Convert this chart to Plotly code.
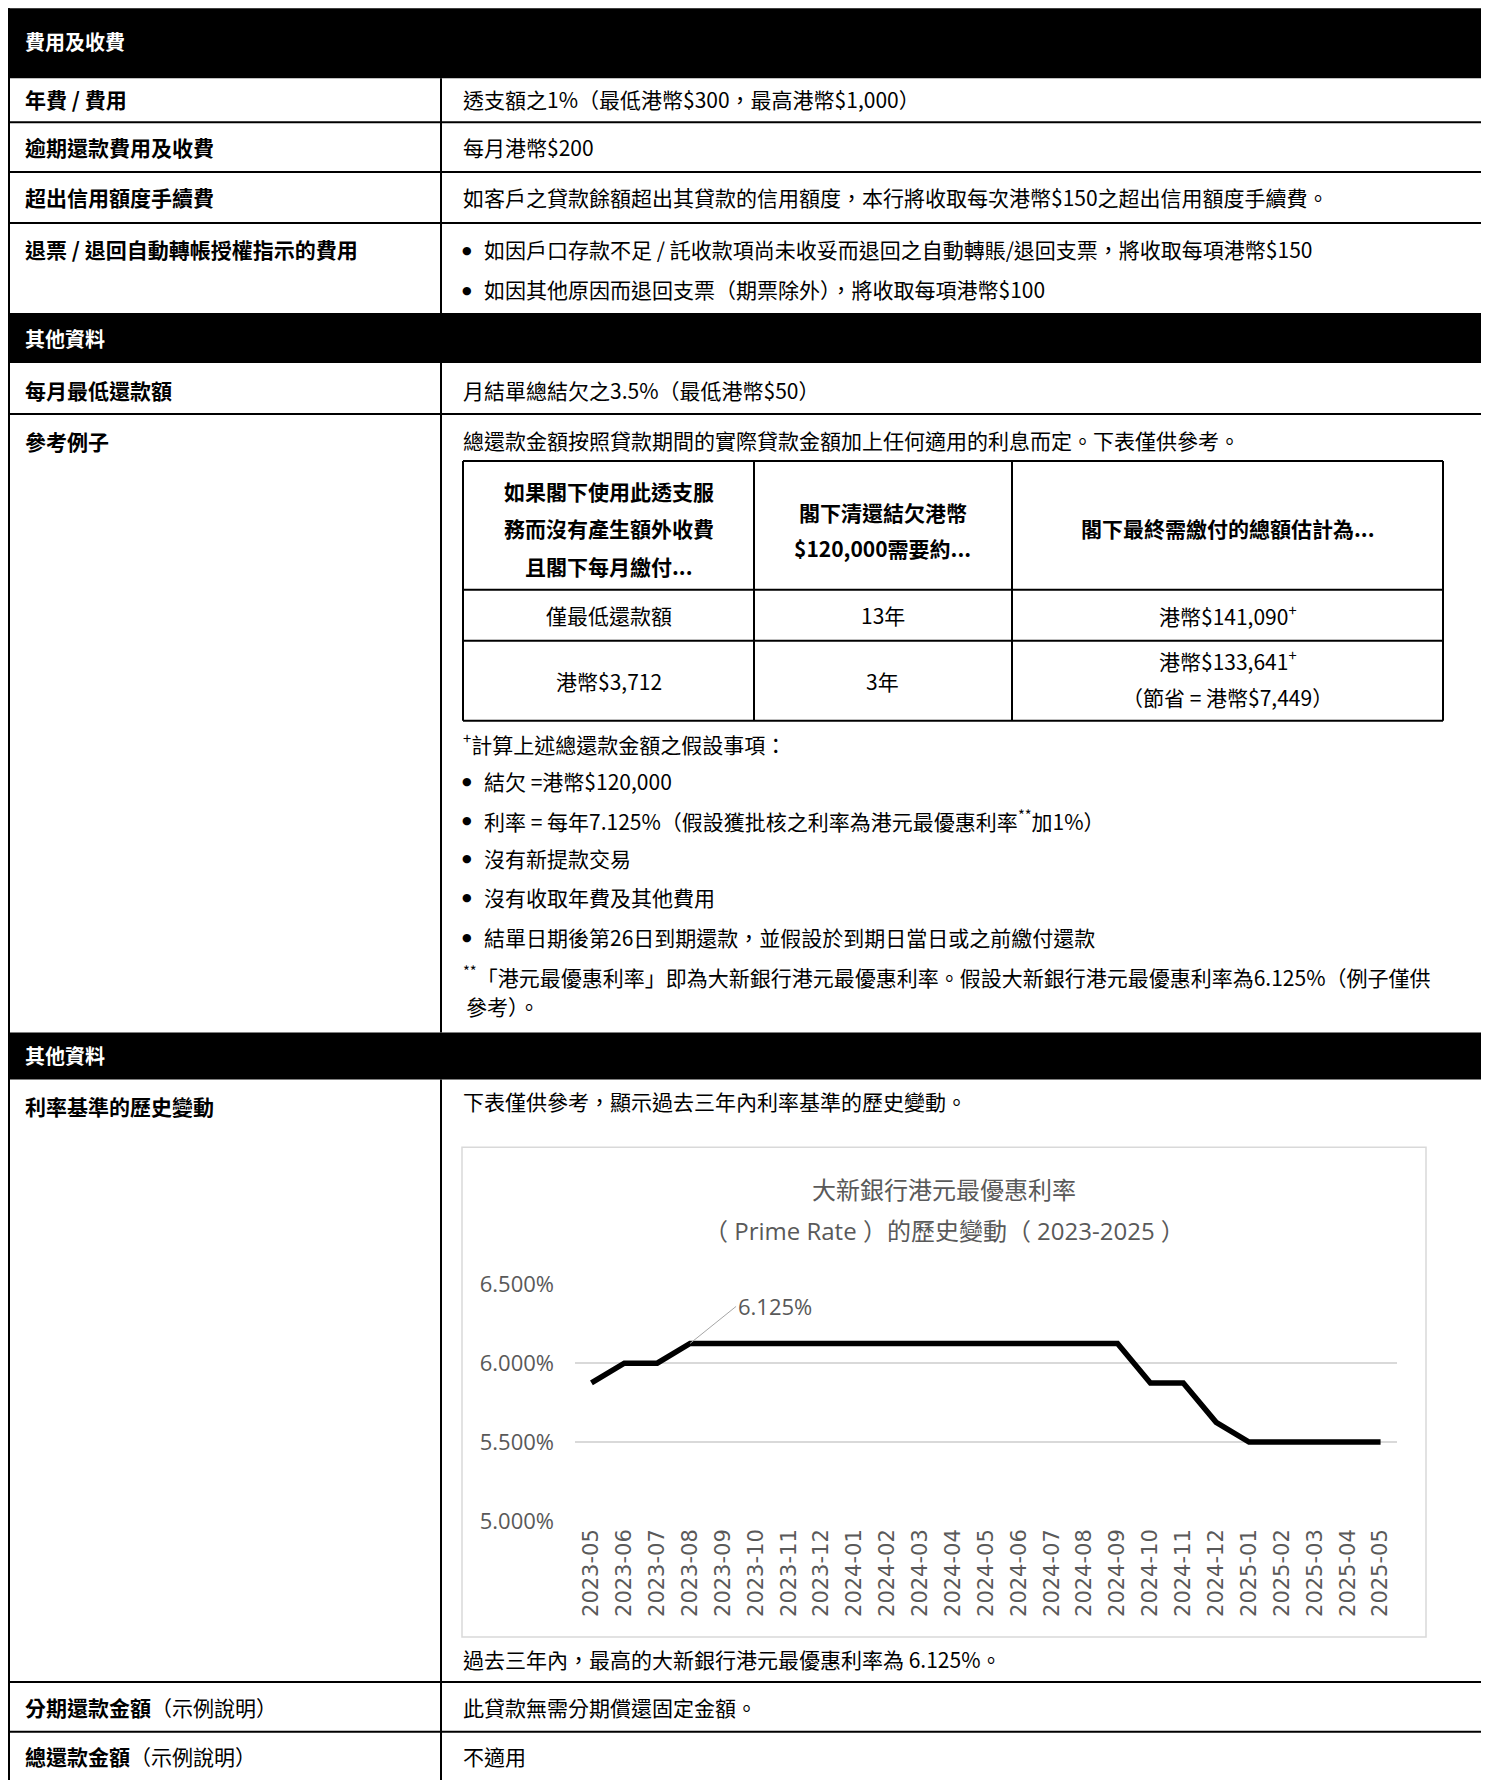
import plotly.graph_objects as go

# ---------------- data ----------------
months = ["2023-05", "2023-06", "2023-07", "2023-08", "2023-09", "2023-10", "2023-11",
          "2023-12", "2024-01", "2024-02", "2024-03", "2024-04", "2024-05", "2024-06",
          "2024-07", "2024-08", "2024-09", "2024-10", "2024-11", "2024-12", "2025-01",
          "2025-02", "2025-03", "2025-04", "2025-05"]
prime_rate = [5.875, 6.000, 6.000, 6.125, 6.125, 6.125, 6.125,
              6.125, 6.125, 6.125, 6.125, 6.125, 6.125, 6.125,
              6.125, 6.125, 6.125, 5.875, 5.875, 5.625, 5.500,
              5.500, 5.500, 5.500, 5.500]
y_ticks = [5.0, 5.5, 6.0, 6.5]
y_ticktext = ["5.000%", "5.500%", "6.000%", "6.500%"]

chart_title_1 = "大新銀行港元最優惠利率"
chart_title_2 = "（ Prime Rate ）的歷史變動（ 2023-2025 ）"
peak_label = "6.125%"

section_titles = ["費用及收費", "其他資料", "其他資料"]
fee_labels = ["年費 / 費用", "逾期還款費用及收費", "超出信用額度手續費", "退票 / 退回自動轉帳授權指示的費用"]
fee_values = ["透支額之1%（最低港幣$300，最高港幣$1,000）",
              "每月港幣$200",
              "如客戶之貸款餘額超出其貸款的信用額度，本行將收取每次港幣$150之超出信用額度手續費。"]
bounce_bullets = ["如因戶口存款不足 / 託收款項尚未收妥而退回之自動轉賬/退回支票，將收取每項港幣$150",
                  "如因其他原因而退回支票（期票除外），將收取每項港幣$100"]
info_labels = ["每月最低還款額", "參考例子"]
min_payment = "月結單總結欠之3.5%（最低港幣$50）"
example_intro = "總還款金額按照貸款期間的實際貸款金額加上任何適用的利息而定。下表僅供參考。"
example_head = [["如果閣下使用此透支服", "務而沒有產生額外收費", "且閣下每月繳付..."],
                ["閣下清還結欠港幣", "$120,000需要約..."],
                ["閣下最終需繳付的總額估計為..."]]
example_row1 = ["僅最低還款額", "13年", "港幣$141,090<sup>+</sup>"]
example_row2 = ["港幣$3,712", "3年", ["港幣$133,641<sup>+</sup>", "（節省 = 港幣$7,449）"]]
assume_title = "<sup>+</sup>計算上述總還款金額之假設事項："
assume_bullets = ["結欠 =港幣$120,000",
                  "利率 = 每年7.125%（假設獲批核之利率為港元最優惠利率<sup>**</sup>加1%）",
                  "沒有新提款交易",
                  "沒有收取年費及其他費用",
                  "結單日期後第26日到期還款，並假設於到期日當日或之前繳付還款"]
prime_note = ["<sup>**</sup>「港元最優惠利率」即為大新銀行港元最優惠利率。假設大新銀行港元最優惠利率為6.125%（例子僅供",
              "參考）。"]
hist_label = "利率基準的歷史變動"
hist_intro = "下表僅供參考，顯示過去三年內利率基準的歷史變動。"
hist_note = "過去三年內，最高的大新銀行港元最優惠利率為 6.125%。"
last_labels = ["<b>分期還款金額</b>（示例說明）", "<b>總還款金額</b>（示例說明）"]
last_values = ["此貸款無需分期償還固定金額。", "不適用"]

# ---------------- layout helpers ----------------
OFFX, OFFY = 8, 23          # page offset of the figure
KY = 1.015                  # vertical calibration of the capture
W, H = 1473, 1800
BODY = "Noto Sans CJK TC"
CHART_FONT = "Open Sans, Noto Sans CJK TC"
GRAY = "#595959"
FS = 21


def px(x):
    return (x - OFFX) / W


def py(y):
    yy = 8 + (y - 8) * KY
    return 1 - (yy - OFFY) / H


shapes = []
annotations = []


def rect(x0, y0, x1, y1, fill=None, line_color=None, lw=0):
    shapes.append(dict(type="rect", xref="paper", yref="paper",
                       x0=px(x0), x1=px(x1), y0=py(y1), y1=py(y0),
                       fillcolor=fill if fill else "rgba(0,0,0,0)",
                       line=dict(color=line_color if line_color else "rgba(0,0,0,0)", width=lw),
                       layer="below"))


def line(x0, y0, x1, y1, color="black", lw=2):
    shapes.append(dict(type="line", xref="paper", yref="paper",
                       x0=px(x0), x1=px(x1), y0=py(y0), y1=py(y1),
                       line=dict(color=color, width=lw)))


def txt(x, y, s, size=FS, bold=False, color="black", xanchor="left", family=BODY):
    annotations.append(dict(xref="paper", yref="paper", x=px(x), y=py(y),
                            text=f"<b>{s}</b>" if bold else s, showarrow=False,
                            xanchor=xanchor, yanchor="middle",
                            font=dict(family=family, size=size, color=color)))


def bullet(x, y, s, size=FS):
    txt(x, y + 1, "●", size=11, family="DejaVu Sans", xanchor="center")
    txt(x + 15, y, s, size=size)


# ---------------- outer table ----------------
L, R, DIV = 8, 1483, 441
LX, RX = 23, 461

# section header bands
bands = [(8, 78), (313, 363), (1033, 1080)]
band_text_y = [41, 339, 1056]
for (y0, y1), t, ty in zip(bands, section_titles, band_text_y):
    rect(L, y0, R, y1, fill="black")
    txt(LX, ty, t, size=20, bold=True, color="white")

# horizontal row lines
for y in [122, 172, 223, 414, 1683, 1733]:
    line(L, y, R, y)
# outer verticals
line(L + 1, 8, L + 1, 1800)
line(R - 1, 8, R - 1, 1800)
# divider verticals
for y0, y1 in [(78, 313), (363, 1033), (1080, 1800)]:
    line(DIV, y0, DIV, y1)

# fee rows
fee_y = [99, 147, 197, 249]
for lab, yy in zip(fee_labels, fee_y):
    txt(LX, yy, lab, bold=True)
for val, yy in zip(fee_values, fee_y[:3]):
    txt(RX, yy, val)
for b, yy in zip(bounce_bullets, [249, 289]):
    bullet(RX + 6, yy, b)

# other info rows
txt(LX, 390, info_labels[0], bold=True)
txt(RX, 390, min_payment)
txt(LX, 441, info_labels[1], bold=True)
txt(RX, 440, example_intro)

# inner example table
TX = [463, 754, 1012, 1443]
TY = [461, 590, 641, 721]
for x in TX:
    line(x, TY[0], x, TY[-1])
for y in TY:
    line(TX[0], y, TX[-1], y)
col_c = [(TX[i] + TX[i + 1]) / 2 for i in range(3)]
head_y = [[491, 528, 566], [512, 548], [528]]
for c, lines_, ys in zip(col_c, example_head, head_y):
    for s, yy in zip(lines_, ys):
        txt(c, yy, s, bold=True, xanchor="center")
for c, s in zip(col_c, example_row1):
    txt(c, 615, s, xanchor="center")
txt(col_c[0], 681, example_row2[0], xanchor="center")
txt(col_c[1], 681, example_row2[1], xanchor="center")
for s, yy in zip(example_row2[2], [660, 697]):
    txt(col_c[2], yy, s, xanchor="center")

# assumptions
txt(RX, 743, assume_title)
for s, yy in zip(assume_bullets, [781, 820, 858, 897, 937]):
    bullet(RX + 6, yy, s)
txt(RX, 977, prime_note[0])
txt(RX + 3, 1007, prime_note[1])

# history row
txt(LX, 1107, hist_label, bold=True)
txt(RX, 1102, hist_intro)
txt(RX, 1660, hist_note)

# last rows
for lab, val, yy in zip(last_labels, last_values, [1708, 1757]):
    txt(LX, yy, lab)
    txt(RX, yy, val)

# ---------------- chart ----------------
rect(462, 1148, 1426, 1638, line_color="#d9d9d9", lw=1.5)
txt(944, 1190, chart_title_1, size=24, color=GRAY, xanchor="center", family=CHART_FONT)
txt(944, 1231, chart_title_2, size=24, color=GRAY, xanchor="center", family=CHART_FONT)

PX0, PX1, PY0, PY1 = 575, 1397, 1285, 1522

fig = go.Figure()
fig.add_trace(go.Scatter(x=months, y=prime_rate, mode="lines",
                         line=dict(color="black", width=5.5, shape="linear"),
                         hoverinfo="skip", showlegend=False))

peak_idx = prime_rate.index(max(prime_rate))
annotations.append(dict(x=months[peak_idx], y=prime_rate[peak_idx], xref="x", yref="y",
                        text=peak_label, showarrow=True, arrowhead=0, arrowwidth=1,
                        arrowcolor="#a6a6a6", ax=46, ay=-37, xanchor="left",
                        font=dict(family=CHART_FONT, size=22, color=GRAY)))

fig.update_layout(
    width=W, height=H,
    margin=dict(l=0, r=0, t=0, b=0),
    paper_bgcolor="white", plot_bgcolor="white",
    shapes=shapes, annotations=annotations,
    xaxis=dict(domain=[px(PX0), px(PX1)], type="category", range=[-0.5, len(months) - 0.5],
               showgrid=False, showline=False, zeroline=False, ticks="",
               tickangle=-90, tickfont=dict(family="DejaVu Sans", size=21, color=GRAY),
               ticklabelstandoff=2),
    yaxis=dict(domain=[py(PY1 + 1), py(PY0 - 1)], range=[4.994, 6.506],
               tickvals=y_ticks, ticktext=y_ticktext,
               showgrid=True, gridcolor="#d9d9d9",
               gridwidth=1.5, zeroline=False, showline=False, ticks="",
               tickfont=dict(family=CHART_FONT, size=22, color=GRAY),
               ticklabelstandoff=20),
)

fig.write_html("out.html")
